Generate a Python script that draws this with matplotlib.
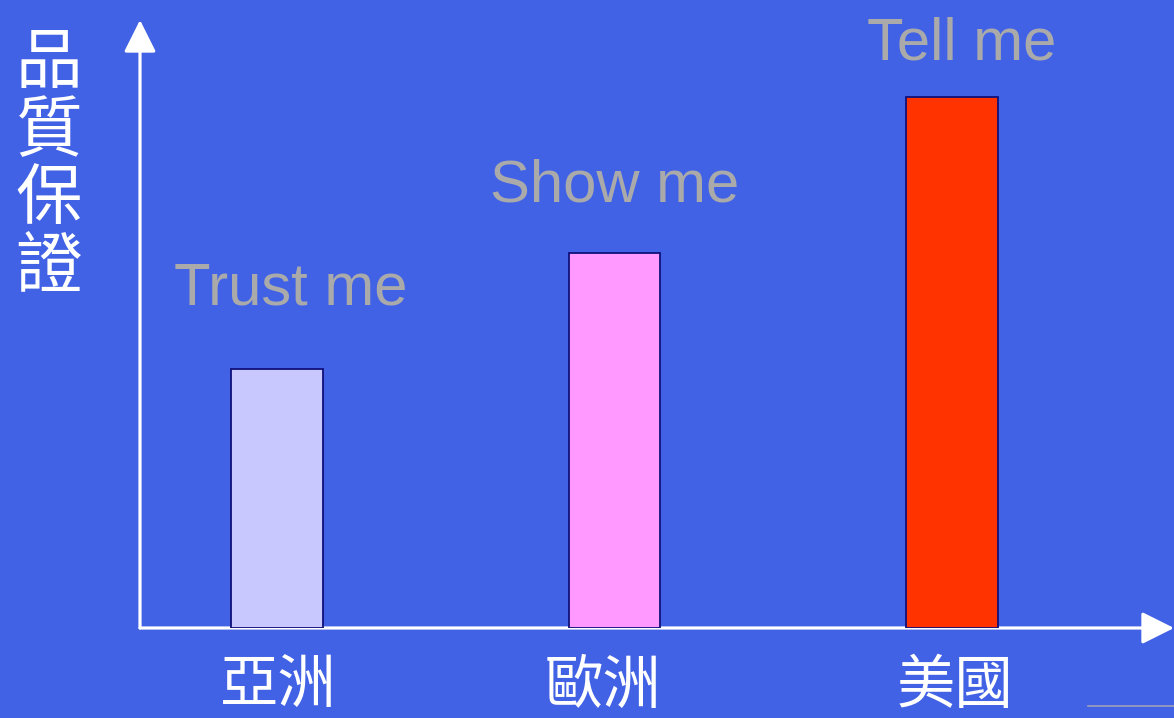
import matplotlib
matplotlib.use("Agg")
import matplotlib.pyplot as plt
from matplotlib.lines import Line2D

categories = ["亞洲", "歐洲", "美國"]
values = [2.59, 3.75, 5.31]
bar_labels = ["Trust me", "Show me", "Tell me"]
bar_colors = ["#C8C8FF", "#FF99FF", "#FF3300"]
ylabel_chars = ["品", "質", "保", "證"]

BG = "#4262E6"
W, H = 1174, 718
fig = plt.figure(figsize=(W / 100, H / 100), dpi=100)
fig.patch.set_facecolor(BG)

ax = fig.add_axes([140 / W, 90 / H, 1034 / W, 608 / H])
ax.set_facecolor(BG)
ax.set_xlim(-0.406, 2.658)
ax.set_ylim(0, 6.08)
for s in ax.spines.values():
    s.set_visible(False)

# axes with arrows
for tip in [(0, 1), (1, 0)]:
    ax.annotate("", xy=tip, xytext=(0, 0), xycoords="axes fraction",
                arrowprops=dict(arrowstyle="-|>,head_length=0.9,head_width=0.45",
                                color="white", lw=2.3, shrinkA=0, shrinkB=0,
                                mutation_scale=22), zorder=1, annotation_clip=False)

x = list(range(len(categories)))
ax.bar(x, values, width=0.27, color=bar_colors, edgecolor="#10107A",
       linewidth=1.3, zorder=3)

label_pos = [(0.04, 3.39), (1.0, 4.42), (2.03, 5.84)]
for (lx, ly), t in zip(label_pos, bar_labels):
    ax.text(lx, ly, t, ha="center", va="center", fontsize=43,
            family=["Liberation Sans", "DejaVu Sans"], color="#AAAAAA",
            clip_on=False)

ax.set_xticks([])
ax.set_yticks([])
tick_offsets = [0.005, -0.033, 0.01]
for xi, off, lab in zip(x, tick_offsets, categories):
    ax.text(xi + off, -0.28, lab, ha="center", va="top", fontsize=42,
            color="white", family=["Noto Sans CJK TC", "DejaVu Sans"],
            fontweight="light", clip_on=False)

fig.text(49 / W, 1 - 166 / H, "\n".join(ylabel_chars), ha="center", va="center",
         fontsize=48, color="white", linespacing=1.0,
         family=["Noto Sans CJK TC", "DejaVu Sans"], fontweight="light")

fig.add_artist(Line2D([1088 / W, 1.0], [1 - 706 / H, 1 - 706 / H],
                      transform=fig.transFigure, color="#A0A0B8", lw=1.2))

fig.savefig("out.png", dpi=100, facecolor=BG)
